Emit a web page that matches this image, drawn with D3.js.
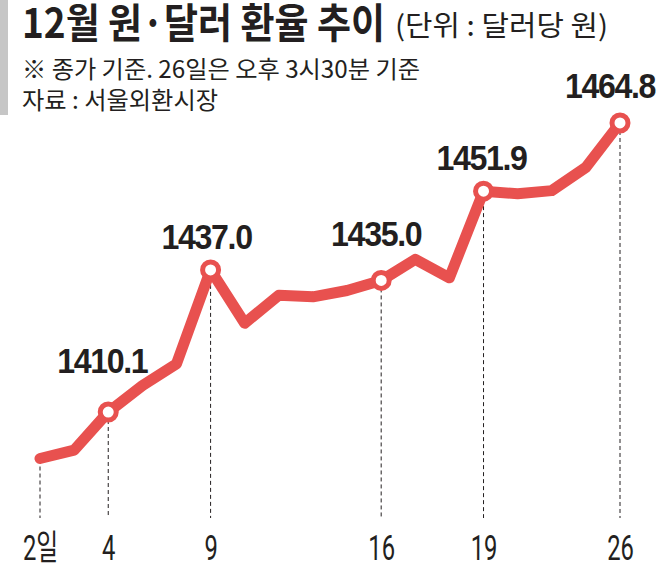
<!DOCTYPE html>
<html>
<head>
<meta charset="utf-8">
<script src="https://cdn.jsdelivr.net/npm/d3@7"></script>
<style>
  body { margin: 0; background: #fff; }
  svg { display: block; }
</style>
</head>
<body>
<script>
// trading days in December (x categories)
var days = [2, 3, 4, 5, 6, 9, 10, 11, 12, 13, 16, 17, 18, 19, 20, 23, 24, 26];
// won per dollar, closing rate
var rates = [1401.3, 1402.9, 1410.1, 1415.1, 1419.2, 1437.0, 1426.9, 1432.2, 1431.9,
             1433.1, 1435.0, 1439.0, 1435.5, 1451.9, 1451.4, 1452.0, 1456.4, 1464.8];
// days that get a dashed guide and an x label
var markedDays = [2, 4, 9, 16, 19, 26];
var tickLabels = ['2일', '4', '9', '16', '19', '26'];
// days that get a circle and a value label
var labelledDays = [4, 9, 16, 19, 26];

var titleText = '12월 원·달러 환율 추이';
var unitText = '(단위 : 달러당 원)';
var noteText = '※ 종가 기준. 26일은 오후 3시30분 기준';
var sourceText = '자료 : 서울외환시장';

var svgWidth = 661;
var svgHeight = 567;
var red = '#e8514f';
var ink = '#231f20';

var data = days.map(function(d, i) { return { day: d, rate: rates[i] }; });

var svg = d3.select('body').append('svg')
    .attr('width', svgWidth)
    .attr('height', svgHeight);

// header
svg.append('rect')
    .attr('x', 0).attr('y', 0)
    .attr('width', 8).attr('height', 115)
    .attr('fill', '#c6c6c6');

svg.append('text')
    .attr('x', 22).attr('y', 38)
    .attr('font-family', '"Noto Sans CJK KR", sans-serif')
    .attr('font-weight', 700)
    .attr('font-size', 41)
    .attr('textLength', 363)
    .attr('lengthAdjust', 'spacingAndGlyphs')
    .attr('fill', ink)
    .text(titleText);

svg.append('text')
    .attr('x', 395).attr('y', 36)
    .attr('font-family', '"Noto Sans CJK KR", sans-serif')
    .attr('font-size', 28)
    .attr('textLength', 213)
    .attr('lengthAdjust', 'spacingAndGlyphs')
    .attr('fill', ink)
    .text(unitText);

svg.append('text')
    .attr('x', 22).attr('y', 78)
    .attr('font-family', '"Noto Sans CJK KR", sans-serif')
    .attr('font-size', 24)
    .attr('textLength', 398)
    .attr('lengthAdjust', 'spacingAndGlyphs')
    .attr('fill', ink)
    .text(noteText);

svg.append('text')
    .attr('x', 22).attr('y', 109)
    .attr('font-family', '"Noto Sans CJK KR", sans-serif')
    .attr('font-size', 24)
    .attr('textLength', 196)
    .attr('lengthAdjust', 'spacingAndGlyphs')
    .attr('fill', ink)
    .text(sourceText);

// scales
var xScale = d3.scalePoint()
    .domain(days)
    .range([40, 620]);

var yScale = d3.scaleLinear()
    .domain([1400, 1470])
    .range([465.4, 95.5]);

var baseY = 518;

// dashed guides
svg.append('g').selectAll('line')
    .data(data.filter(function(d) { return markedDays.indexOf(d.day) >= 0; }))
    .enter()
    .append('line')
    .attr('x1', function(d) { return xScale(d.day); })
    .attr('x2', function(d) { return xScale(d.day); })
    .attr('y1', function(d) { return yScale(d.rate) + 8; })
    .attr('y2', baseY)
    .attr('stroke', ink)
    .attr('stroke-width', 1)
    .attr('stroke-dasharray', '4,3');

// x axis labels
var xAxis = d3.axisBottom(xScale)
    .tickValues(markedDays)
    .tickSize(0)
    .tickPadding(0)
    .tickFormat(function(d, i) { return tickLabels[i]; });

var axisG = svg.append('g')
    .attr('transform', 'translate(0,' + 533 + ')')
    .call(xAxis);
axisG.select('.domain').remove();
axisG.selectAll('text')
    .attr('dy', null)
    .attr('y', 27)
    .attr('font-family', 'Roboto, "Noto Sans CJK KR", sans-serif')
    .attr('font-size', 35)
    .attr('fill', ink)
    .attr('transform', 'scale(0.68,1)');

// the line
var line = d3.line()
    .x(function(d) { return xScale(d.day); })
    .y(function(d) { return yScale(d.rate); });

svg.append('path')
    .datum(data)
    .attr('d', line)
    .attr('fill', 'none')
    .attr('stroke', red)
    .attr('stroke-width', 11)
    .attr('stroke-linecap', 'round')
    .attr('stroke-linejoin', 'round');

// circles
var labelled = data.filter(function(d) { return labelledDays.indexOf(d.day) >= 0; });

svg.append('g').selectAll('circle')
    .data(labelled)
    .enter()
    .append('circle')
    .attr('cx', function(d) { return xScale(d.day); })
    .attr('cy', function(d) { return yScale(d.rate); })
    .attr('r', 8)
    .attr('fill', '#fff')
    .attr('stroke', red)
    .attr('stroke-width', 5);

// value labels (offset from the point)
var labelOffset = {
    4: [-6, -39],
    9: [-4, -21],
    16: [-5, -34],
    19: [-2, -21],
    26: [-10, -25]
};

svg.append('g').selectAll('text')
    .data(labelled)
    .enter()
    .append('text')
    .attr('transform', function(d) {
        var o = labelOffset[d.day];
        return 'translate(' + (xScale(d.day) + o[0]) + ',' + (yScale(d.rate) + o[1]) + ') scale(0.92,1)';
    })
    .attr('text-anchor', 'middle')
    .attr('font-family', '"Liberation Sans", Arial, sans-serif')
    .attr('font-weight', 700)
    .attr('font-size', 35)
    .attr('letter-spacing', -1.5)
    .attr('fill', ink)
    .text(function(d) { return d.rate.toFixed(1); });
</script>
</body>
</html>
